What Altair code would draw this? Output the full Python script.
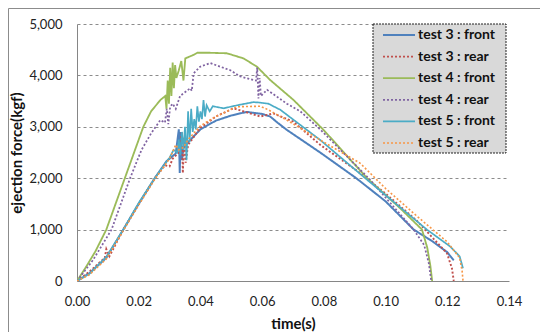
import altair as alt
import pandas as pd

series_names = ["test 3 : front", "test 3 : rear", "test 4 : front",
                "test 4 : rear", "test 5 : front", "test 5 : rear"]
series_colors = ["#4F81BD", "#C0504D", "#9BBB59", "#8064A2", "#4BACC6", "#F79646"]

t3f = [0, 0.004, 0.0095, 0.015, 0.020, 0.0252, 0.029, 0.032, 0.0330, 0.0333, 0.0336, 0.0340,
       0.0345, 0.036, 0.040, 0.045, 0.050, 0.055, 0.060, 0.0626, 0.065, 0.068, 0.0788, 0.0905,
       0.1000, 0.1091, 0.1150, 0.1200, 0.1221]
f3f = [0, 150, 450, 1000, 1500, 2000, 2330, 2480, 2950, 2100, 2900, 2350,
       2600, 2700, 2950, 3120, 3220, 3290, 3250, 3200, 3080, 2940, 2500, 2000,
       1550, 1000, 780, 560, 400]

t3r = [0, 0.004, 0.009, 0.0095, 0.0105, 0.015, 0.020, 0.0252, 0.0285, 0.0300, 0.0310, 0.0330,
       0.0340, 0.0343, 0.0347, 0.0352, 0.036, 0.040, 0.045, 0.0507, 0.054, 0.0594, 0.0636,
       0.0701, 0.0788, 0.0918, 0.100, 0.110, 0.1199, 0.1215, 0.1221]
f3r = [0, 180, 450, 620, 480, 1000, 1500, 2000, 2250, 2230, 2380, 2500,
       2900, 2100, 2800, 2300, 2650, 2980, 3200, 3360, 3300, 3200, 3260,
       3100, 2650, 2100, 1700, 1180, 540, 250, 0]

t4f = [0, 0.003, 0.006, 0.0095, 0.0125, 0.0155, 0.0185, 0.0215, 0.024, 0.027, 0.0286, 0.0290,
       0.0294, 0.0298, 0.0302, 0.0306, 0.0310, 0.0314, 0.0318, 0.0322, 0.0330, 0.0338, 0.0345,
       0.0351, 0.0378, 0.039, 0.043, 0.0486, 0.054, 0.0583, 0.0626, 0.0702, 0.0799, 0.094,
       0.1050, 0.1118, 0.1135, 0.1145, 0.1151]
f4f = [0, 280, 580, 1000, 1500, 2000, 2500, 3000, 3300, 3520, 3600, 3350,
       3900, 3450, 4150, 3600, 4250, 3750, 4200, 3950, 4100, 4280, 3900,
       4330, 4400, 4440, 4440, 4430, 4330, 4170, 3910, 3520, 2940, 2000,
       1400, 1000, 650, 300, 0]

t4r = [0, 0.0052, 0.0112, 0.0172, 0.0209, 0.024, 0.027, 0.0285, 0.0291, 0.0296, 0.0302, 0.0310,
       0.0320, 0.0334, 0.0345, 0.0367, 0.0372, 0.0378, 0.0399, 0.0432, 0.0464, 0.0497, 0.0529,
       0.0572, 0.0580, 0.0584, 0.0588, 0.0592, 0.0596, 0.0616, 0.068, 0.0724, 0.0788, 0.0945,
       0.1091, 0.1125, 0.1140, 0.1148]
f4r = [0, 409, 1000, 2000, 2550, 2870, 3130, 3080, 3350, 3050, 3390, 3450,
       3350, 3600, 3650, 3750, 3700, 4040, 4170, 4240, 4170, 4100, 3980,
       3910, 3900, 4150, 3550, 3950, 3600, 3720, 3450, 3300, 2950, 2000,
       1000, 700, 350, 0]

t5f = [0, 0.004, 0.0095, 0.015, 0.020, 0.0252, 0.030, 0.0313, 0.0325, 0.0330, 0.0335, 0.0340,
       0.0345, 0.0350, 0.0355, 0.0360, 0.0365, 0.0370, 0.0375, 0.0380, 0.0385, 0.0390, 0.0395,
       0.0400, 0.0405, 0.0410, 0.0415, 0.0420, 0.0430, 0.0440, 0.0475, 0.0520, 0.0572, 0.0594,
       0.0620, 0.0659, 0.0788, 0.0934, 0.1134, 0.1210, 0.1240, 0.1251]
f5f = [0, 140, 470, 1000, 1520, 2000, 2400, 2550, 2500, 2750, 2450, 2900,
       2550, 3000, 2350, 3300, 2700, 3350, 2900, 3150, 2950, 3400, 3100,
       3300, 3150, 3520, 3200, 3420, 3300, 3400, 3360, 3420, 3480, 3470,
       3450, 3330, 2744, 2000, 1000, 668, 480, 247]

t5r = [0, 0.004, 0.0095, 0.015, 0.020, 0.0252, 0.030, 0.032, 0.033, 0.0345, 0.036, 0.040,
       0.045, 0.0518, 0.0594, 0.062, 0.068, 0.0788, 0.0918, 0.100, 0.110, 0.120, 0.124,
       0.1248, 0.1251]
f5r = [0, 120, 430, 980, 1480, 1980, 2380, 2650, 2550, 2600, 2750, 3020,
       3200, 3390, 3400, 3330, 3130, 2744, 2290, 1800, 1270, 760, 450,
       200, 0]

x_ticks = [0, 0.02, 0.04, 0.06, 0.08, 0.10, 0.12, 0.14]
y_ticks = [0, 1000, 2000, 3000, 4000, 5000]

rows = []
for name, ts, fs in zip(series_names, [t3f, t3r, t4f, t4r, t5f, t5r],
                        [f3f, f3r, f4f, f4r, f5f, f5r]):
    for i, (t, f) in enumerate(zip(ts, fs)):
        rows.append({"series": name, "time": t, "force": f, "idx": i})
df = pd.DataFrame(rows)
legend_df = pd.DataFrame({"series": series_names, "pos": list(range(len(series_names)))})

FONT = "Lato"

color_scale = alt.Scale(domain=series_names, range=series_colors)
dash_scale = alt.Scale(domain=series_names,
                       range=[[1, 0], [2, 2], [1, 0], [2, 2], [1, 0], [2, 2]])
width_scale = alt.Scale(domain=series_names, range=[2, 1.6, 2, 1.6, 3.2, 1.6])

lines = alt.Chart(df).mark_line(clip=True).encode(
    x=alt.X("time:Q", scale=alt.Scale(domain=[0, 0.14], nice=False),
            axis=alt.Axis(values=x_ticks, format=".2f", title="time(s)", grid=False,
                          ticks=False, labelPadding=14, titlePadding=8, labelFlush=False,
                          domainColor="#868686", labelFont=FONT, labelFontSize=13,
                          labelColor="#222222", titleFont=FONT, titleFontSize=15,
                          titleFontWeight="bold", titleColor="#111111")),
    y=alt.Y("force:Q", scale=alt.Scale(domain=[0, 5000], nice=False),
            axis=alt.Axis(values=y_ticks, format=",d", title="ejection force(kgf)",
                          grid=True, gridDash=[3, 3], gridColor="#8c8c8c",
                          ticks=False, labelPadding=15, titlePadding=4, labelFlush=False,
                          domainColor="#868686", labelFont=FONT, labelFontSize=13,
                          labelColor="#222222", titleFont=FONT, titleFontSize=15,
                          titleFontWeight="bold", titleColor="#111111")),
    color=alt.Color("series:N", scale=color_scale, legend=None),
    strokeDash=alt.StrokeDash("series:N", scale=dash_scale, legend=None),
    strokeWidth=alt.StrokeWidth("series:N", scale=width_scale, legend=None),
    order="idx:Q",
)

legend_y = alt.Y("pos:Q", scale=alt.Scale(domain=[0, 5], range=[11, 119], nice=False,
                                          zero=False), axis=None)

legend_box = alt.Chart(alt.Data(values=[{}])).mark_rect(
    fill="#d9d9d9", stroke="#222222", strokeDash=[2, 1], strokeWidth=1
).encode(x=alt.value(296), x2=alt.value(429), y=alt.value(0), y2=alt.value(129))

legend_sym = alt.Chart(legend_df).mark_rule().encode(
    x=alt.value(306), x2=alt.value(338), y=legend_y,
    color=alt.Color("series:N", scale=color_scale, legend=None),
    strokeDash=alt.StrokeDash("series:N", scale=dash_scale, legend=None),
    strokeWidth=alt.StrokeWidth("series:N", scale=width_scale, legend=None),
)

legend_txt = alt.Chart(legend_df).mark_text(
    align="left", baseline="middle", font=FONT, fontSize=14, fontWeight="bold",
    color="#111111"
).encode(x=alt.value(341), y=legend_y, text="series:N")

frame_top = alt.Chart(alt.Data(values=[{}])).mark_rule(color="#8c8c8c", strokeWidth=1).encode(
    x=alt.value(-68.5), x2=alt.value(470), y=alt.value(-15.5))
frame_left = alt.Chart(alt.Data(values=[{}])).mark_rule(color="#8c8c8c", strokeWidth=1).encode(
    x=alt.value(-68.5), y=alt.value(-15.5), y2=alt.value(400))

legend = alt.layer(legend_box, legend_sym, legend_txt)

chart = alt.layer(lines, legend, frame_top, frame_left).resolve_scale(
    y="independent"
).properties(
    width=432, height=257,
    autosize=alt.AutoSizeParams(type="none"),
    padding={"left": 69, "top": 16, "right": 31, "bottom": 52},
    background="white",
).configure_view(stroke=None)

chart.save("out.html", embed_options={"renderer": "svg", "actions": False})
